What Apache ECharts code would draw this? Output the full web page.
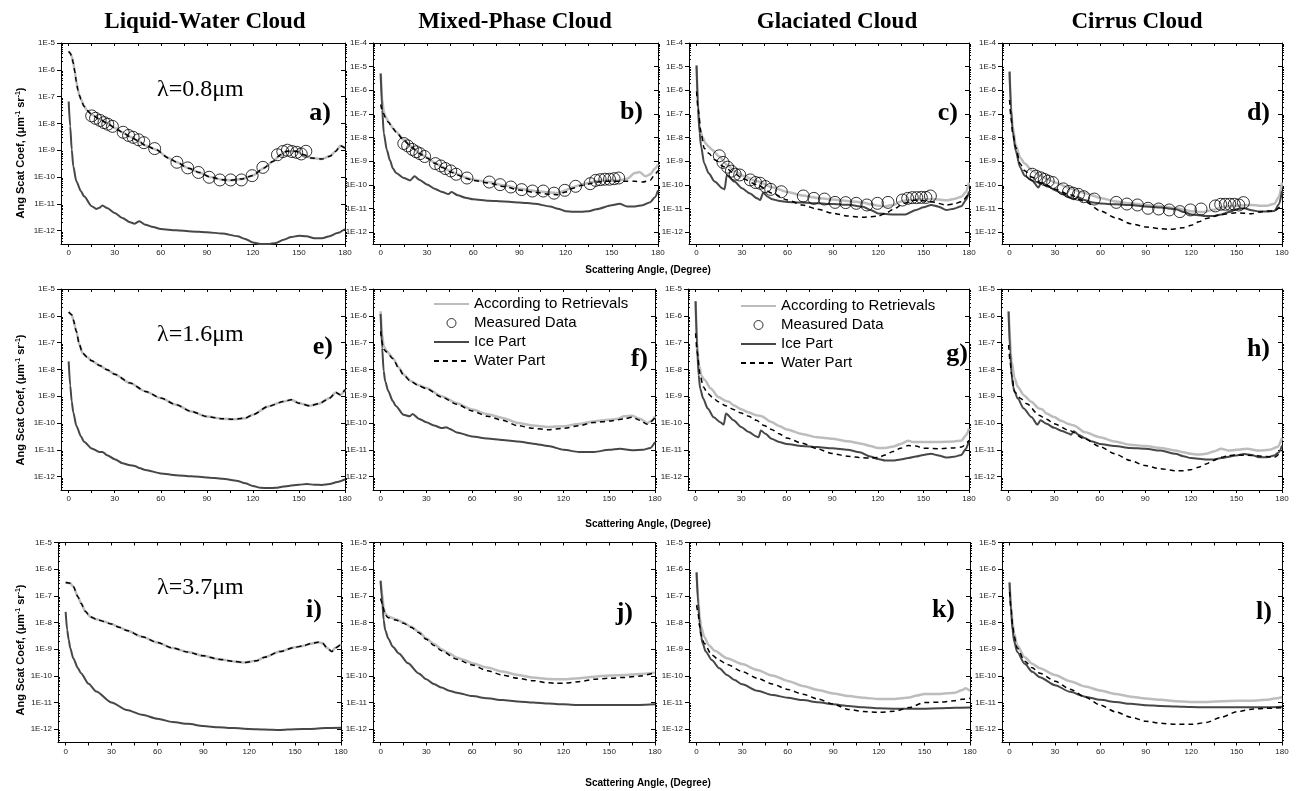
<!DOCTYPE html>
<html>
<head>
<meta charset="utf-8">
<script src="https://cdn.jsdelivr.net/npm/echarts@6/dist/echarts.min.js"></script>
<style>
  html, body { margin: 0; padding: 0; background: #fff; }
  #chart { width: 1297px; height: 791px; }
</style>
</head>
<body>
<div id="chart"></div>
<script>
// Angular scattering coefficient vs scattering angle.
// Curve values are stored as [angle in degrees, log10(coefficient in um^-1 sr^-1)].

// ---------- measured data (polar nephelometer angles) ----------
const measAngles = [15, 17.5, 20.5, 23, 25.5, 28.5, 35.5, 39, 42, 45.5, 49, 56, 70.5, 77.5, 84.5,
  91.5, 98.5, 105.5, 112.5, 119.5, 126.5, 136, 139.5, 142.5, 145.5, 148.5, 151.5, 154.5];
const measA = [-7.72, -7.81, -7.89, -7.97, -8.03, -8.11, -8.33, -8.45, -8.52, -8.61, -8.72, -8.94, -9.45, -9.66, -9.83,
  -10.01, -10.11, -10.11, -10.11, -9.95, -9.64, -9.17, -9.05, -9.0, -9.05, -9.08, -9.14, -9.04];
const measB = [-8.25, -8.35, -8.5, -8.6, -8.68, -8.8, -9.1, -9.2, -9.31, -9.41, -9.55, -9.71, -9.88, -9.99, -10.09,
  -10.2, -10.26, -10.26, -10.35, -10.23, -10.06, -9.95, -9.81, -9.78, -9.76, -9.76, -9.74, -9.71];
const measC = [-8.77, -9.05, -9.25, -9.42, -9.55, -9.58, -9.79, -9.9, -9.93, -10.07, -10.19, -10.29, -10.47, -10.57, -10.6,
  -10.74, -10.75, -10.78, -10.85, -10.78, -10.74, -10.64, -10.57, -10.54, -10.54, -10.53, -10.53, -10.47];
const measD = [-9.55, -9.63, -9.7, -9.77, -9.84, -9.9, -10.17, -10.28, -10.35, -10.4, -10.5, -10.6, -10.74, -10.81, -10.85,
  -10.99, -11.02, -11.06, -11.13, -11.06, -11.02, -10.89, -10.82, -10.82, -10.82, -10.82, -10.85, -10.75];

// ---------- lambda = 0.8 um ----------
const retA = [[0,-5.31],[1,-5.38],[2,-5.5],[3,-5.75],[4,-6.06],[5,-6.45],[6,-6.74],[7,-6.95],[8,-7.1],[10,-7.36],[12,-7.52],[15,-7.67],[20,-7.84],[25,-7.99],[30,-8.17],[35,-8.33],[40,-8.5],[45,-8.64],[50,-8.82],[57,-8.98],[65,-9.29],[70,-9.44],[78,-9.67],[85,-9.83],[92,-10.0],[100,-10.1],[106,-10.12],[113,-10.07],[120,-9.94],[127,-9.67],[133,-9.42],[138,-9.17],[142,-9.04],[148,-9.04],[153,-9.17],[158,-9.29],[165,-9.33],[170,-9.23],[174,-9.04],[177,-8.83],[180,-8.92]];
const waterA = [[0,-5.31],[1,-5.38],[2,-5.5],[3,-5.75],[4,-6.06],[5,-6.45],[6,-6.74],[7,-6.95],[8,-7.1],[10,-7.36],[12,-7.52],[15,-7.67],[20,-7.84],[25,-7.99],[30,-8.17],[35,-8.33],[40,-8.5],[45,-8.64],[50,-8.82],[57,-8.98],[65,-9.29],[70,-9.44],[78,-9.67],[85,-9.83],[92,-10.0],[100,-10.1],[106,-10.12],[113,-10.07],[120,-9.94],[127,-9.67],[133,-9.42],[138,-9.17],[142,-9.04],[148,-9.04],[153,-9.17],[158,-9.29],[165,-9.33],[170,-9.23],[174,-9.04],[177,-8.83],[180,-8.92]];
const iceA = [[0,-7.18],[1,-8.11],[2,-8.98],[3,-9.6],[5,-10.16],[8,-10.53],[10,-10.72],[15,-11.09],[18,-11.19],[20,-11.15],[22,-11.06],[25,-11.16],[30,-11.34],[35,-11.53],[40,-11.69],[43,-11.74],[46,-11.65],[50,-11.78],[55,-11.87],[60,-11.94],[70,-11.99],[80,-12.03],[90,-12.06],[100,-12.11],[110,-12.21],[115,-12.31],[120,-12.44],[125,-12.5],[130,-12.5],[135,-12.46],[140,-12.34],[145,-12.24],[150,-12.19],[155,-12.21],[160,-12.29],[165,-12.29],[170,-12.21],[175,-12.09],[180,-11.94]];

const retB = [[0,-5.27],[1,-6.4],[2,-6.9],[3,-7.1],[5,-7.33],[8,-7.6],[10,-7.75],[15,-8.1],[20,-8.39],[25,-8.65],[30,-8.84],[35,-9.06],[40,-9.24],[45,-9.41],[50,-9.55],[55,-9.69],[60,-9.78],[70,-9.88],[80,-10.02],[90,-10.16],[100,-10.26],[110,-10.32],[115,-10.35],[120,-10.23],[125,-10.09],[130,-9.99],[135,-9.92],[140,-9.84],[145,-9.81],[150,-9.81],[155,-9.81],[160,-9.74],[165,-9.5],[168,-9.45],[172,-9.64],[175,-9.55],[178,-9.31],[180,-9.13]];
const waterB = [[0,-6.6],[1,-6.85],[2,-7.0],[3,-7.15],[5,-7.35],[8,-7.62],[10,-7.77],[15,-8.12],[20,-8.41],[25,-8.67],[30,-8.86],[35,-9.08],[40,-9.27],[45,-9.44],[50,-9.58],[55,-9.72],[60,-9.81],[70,-9.92],[80,-10.07],[90,-10.22],[100,-10.32],[110,-10.4],[115,-10.42],[120,-10.3],[125,-10.14],[130,-10.03],[135,-9.96],[140,-9.88],[145,-9.85],[150,-9.85],[155,-9.85],[160,-9.85],[165,-9.85],[170,-9.88],[175,-9.8],[178,-9.55],[180,-9.4]];
const iceB = [[0,-5.3],[1,-6.83],[2,-7.82],[4,-8.53],[6,-8.96],[8,-9.31],[10,-9.5],[15,-9.71],[19,-9.81],[22,-9.64],[25,-9.78],[30,-9.98],[35,-10.16],[40,-10.3],[44,-10.39],[46,-10.3],[50,-10.44],[55,-10.54],[60,-10.61],[70,-10.67],[80,-10.7],[90,-10.74],[100,-10.8],[110,-10.91],[115,-11.01],[120,-11.11],[125,-11.14],[130,-11.14],[135,-11.11],[140,-11.03],[150,-10.86],[155,-10.8],[160,-10.91],[165,-10.91],[170,-10.86],[175,-10.73],[178,-10.52],[180,-10.23]];

const retC = [[0,-4.95],[1,-6.6],[2,-7.6],[4,-8.0],[6,-8.25],[8,-8.38],[10,-8.5],[15,-8.8],[20,-9.15],[25,-9.4],[30,-9.6],[40,-9.85],[50,-10.1],[60,-10.3],[70,-10.45],[80,-10.55],[90,-10.62],[100,-10.68],[110,-10.75],[115,-10.82],[120,-10.88],[125,-10.9],[130,-10.85],[135,-10.7],[140,-10.65],[145,-10.62],[150,-10.62],[155,-10.6],[160,-10.62],[165,-10.65],[170,-10.6],[175,-10.5],[178,-10.3],[180,-9.9]];
const waterC = [[0,-6.05],[1,-6.8],[3,-7.8],[5,-8.45],[8,-8.66],[12,-8.94],[18,-9.23],[25,-9.51],[30,-9.72],[40,-10.0],[50,-10.35],[60,-10.64],[70,-10.85],[80,-11.03],[90,-11.2],[100,-11.32],[110,-11.37],[120,-11.32],[125,-11.2],[130,-11.03],[137,-10.78],[145,-10.64],[155,-10.71],[165,-10.85],[170,-10.81],[175,-10.71],[180,-10.35]];
const iceC = [[0,-4.95],[1,-6.82],[2,-7.81],[3,-8.38],[5,-9.08],[8,-9.51],[12,-9.86],[17,-10.14],[18.5,-10.19],[20,-9.58],[25,-9.86],[30,-10.14],[35,-10.35],[40,-10.57],[42,-10.64],[44,-10.33],[47,-10.5],[50,-10.61],[55,-10.68],[60,-10.72],[70,-10.75],[80,-10.78],[90,-10.81],[100,-10.84],[110,-10.92],[115,-11.06],[120,-11.21],[130,-11.25],[138,-11.25],[145,-11.06],[150,-10.95],[155,-10.85],[160,-10.92],[165,-11.06],[170,-11.01],[175,-10.9],[178,-10.64],[180,-10.28]];

const retD = [[0,-5.21],[1,-6.7],[2,-7.5],[4,-8.3],[7,-8.85],[10,-9.1],[15,-9.4],[20,-9.6],[25,-9.75],[30,-9.9],[40,-10.15],[50,-10.35],[60,-10.55],[70,-10.7],[80,-10.78],[90,-10.85],[100,-10.9],[110,-10.98],[115,-11.05],[120,-11.12],[128,-11.15],[135,-11.05],[140,-10.95],[145,-10.9],[150,-10.88],[160,-10.85],[165,-10.88],[170,-10.88],[175,-10.8],[178,-10.5],[180,-9.9]];
const waterD = [[0,-6.41],[1,-7.2],[2,-7.8],[4,-8.4],[7,-9.11],[10,-9.4],[15,-9.68],[20,-9.9],[25,-10.04],[30,-10.18],[40,-10.42],[50,-10.71],[60,-11.1],[70,-11.39],[80,-11.64],[90,-11.78],[100,-11.85],[106,-11.88],[115,-11.81],[120,-11.71],[125,-11.56],[130,-11.42],[140,-11.25],[150,-11.18],[160,-11.22],[165,-11.15],[170,-11.1],[175,-11.1],[180,-10.82]];
const iceD = [[0,-5.21],[1,-6.84],[2,-7.69],[4,-8.55],[7,-9.26],[10,-9.61],[15,-9.82],[19,-10.11],[21,-9.9],[25,-10.04],[30,-10.23],[35,-10.37],[40,-10.54],[43,-10.61],[45,-10.51],[50,-10.65],[55,-10.75],[60,-10.79],[70,-10.82],[80,-10.85],[90,-10.91],[100,-10.96],[110,-11.03],[115,-11.15],[120,-11.25],[130,-11.32],[135,-11.32],[140,-11.25],[145,-11.15],[150,-11.03],[155,-10.99],[160,-11.07],[165,-11.13],[170,-11.13],[175,-11.1],[178,-10.82],[180,-10.26]];

// ---------- lambda = 1.6 um ----------
const retE = [[0,-5.86],[2,-5.96],[3,-6.15],[5,-6.58],[7,-7.08],[9,-7.39],[12,-7.54],[15,-7.68],[20,-7.85],[25,-8.01],[30,-8.18],[40,-8.51],[50,-8.82],[60,-9.07],[70,-9.32],[80,-9.57],[90,-9.76],[100,-9.84],[107,-9.86],[115,-9.82],[120,-9.69],[130,-9.38],[140,-9.2],[145,-9.13],[150,-9.26],[157,-9.36],[163,-9.28],[170,-9.07],[174,-8.86],[177,-8.95],[180,-8.76]];
const waterE = [[0,-5.86],[2,-5.96],[3,-6.15],[5,-6.58],[7,-7.08],[9,-7.39],[12,-7.54],[15,-7.68],[20,-7.85],[25,-8.01],[30,-8.18],[40,-8.51],[50,-8.82],[60,-9.07],[70,-9.32],[80,-9.57],[90,-9.76],[100,-9.84],[107,-9.86],[115,-9.82],[120,-9.69],[130,-9.38],[140,-9.2],[145,-9.13],[150,-9.26],[157,-9.36],[163,-9.28],[170,-9.07],[174,-8.86],[177,-8.95],[180,-8.76]];
const iceE = [[0,-7.7],[1,-8.6],[2,-9.2],[3,-9.6],[5,-10.1],[8,-10.5],[10,-10.7],[15,-10.95],[20,-11.08],[22,-11.08],[25,-11.2],[30,-11.35],[35,-11.5],[40,-11.58],[43,-11.6],[46,-11.68],[50,-11.75],[60,-11.88],[70,-11.95],[80,-11.99],[90,-12.03],[100,-12.08],[110,-12.16],[115,-12.25],[120,-12.35],[125,-12.42],[130,-12.43],[135,-12.42],[140,-12.37],[150,-12.3],[155,-12.28],[160,-12.3],[165,-12.31],[170,-12.28],[175,-12.2],[180,-12.1]];

const retF = [[0,-5.83],[1,-6.7],[2,-7.13],[4,-7.32],[8,-7.57],[12,-7.94],[15,-8.19],[20,-8.44],[25,-8.59],[30,-8.69],[40,-9.0],[50,-9.26],[60,-9.5],[70,-9.67],[80,-9.81],[90,-10.0],[100,-10.09],[110,-10.15],[120,-10.12],[130,-10.04],[140,-9.94],[150,-9.88],[155,-9.85],[160,-9.75],[165,-9.73],[170,-9.84],[175,-10.0],[178,-9.91],[180,-9.75]];
const waterF = [[0,-6.58],[1,-7.0],[2,-7.25],[4,-7.35],[8,-7.6],[12,-7.96],[15,-8.21],[20,-8.46],[25,-8.61],[30,-8.72],[40,-9.03],[50,-9.3],[60,-9.55],[70,-9.75],[80,-9.9],[90,-10.1],[100,-10.2],[110,-10.25],[120,-10.2],[130,-10.1],[140,-9.98],[150,-9.93],[160,-9.85],[165,-9.78],[170,-9.9],[175,-10.05],[180,-9.8]];
const iceF = [[0,-5.93],[1,-7.2],[2,-8.06],[3,-8.44],[5,-8.81],[8,-9.18],[10,-9.37],[15,-9.69],[19,-9.75],[21,-9.66],[25,-9.84],[30,-9.97],[35,-10.09],[40,-10.19],[43,-10.16],[45,-10.21],[50,-10.35],[60,-10.5],[70,-10.58],[80,-10.63],[90,-10.69],[100,-10.77],[110,-10.86],[120,-11.0],[130,-11.08],[140,-11.08],[150,-11.0],[157,-10.96],[165,-11.02],[172,-11.0],[177,-10.93],[180,-10.71]];

const retG = [[0,-5.46],[1,-7.0],[2,-7.8],[4,-8.25],[6,-8.4],[10,-8.71],[15,-9.03],[20,-9.18],[22,-9.21],[25,-9.34],[30,-9.49],[35,-9.61],[40,-9.71],[43,-9.74],[50,-9.96],[55,-10.11],[60,-10.24],[70,-10.41],[80,-10.53],[90,-10.59],[100,-10.68],[110,-10.78],[115,-10.86],[120,-10.93],[125,-10.93],[130,-10.88],[135,-10.78],[140,-10.66],[143,-10.71],[150,-10.71],[160,-10.71],[170,-10.69],[175,-10.66],[178,-10.46],[180,-10.21]];
const waterG = [[0,-6.65],[1,-7.34],[3,-8.21],[5,-8.65],[8,-8.9],[12,-9.09],[15,-9.21],[20,-9.36],[25,-9.5],[30,-9.63],[35,-9.75],[40,-9.9],[45,-10.09],[50,-10.24],[55,-10.4],[60,-10.56],[70,-10.75],[80,-10.96],[90,-11.14],[100,-11.24],[110,-11.3],[115,-11.31],[120,-11.29],[125,-11.19],[130,-11.06],[135,-10.94],[140,-10.84],[145,-10.86],[150,-10.94],[160,-10.96],[170,-10.93],[175,-10.9],[180,-10.65]];
const iceG = [[0,-5.46],[1,-7.21],[2,-8.21],[3,-8.71],[5,-9.09],[8,-9.46],[12,-9.79],[16,-9.96],[18.5,-10.06],[20,-9.65],[25,-9.9],[30,-10.15],[35,-10.34],[40,-10.5],[41.5,-10.53],[43,-10.28],[46,-10.4],[50,-10.59],[55,-10.71],[60,-10.78],[70,-10.86],[80,-10.9],[90,-10.94],[100,-11.0],[108,-11.09],[115,-11.25],[120,-11.34],[125,-11.4],[130,-11.4],[135,-11.36],[140,-11.31],[145,-11.25],[150,-11.19],[155,-11.15],[160,-11.21],[165,-11.29],[170,-11.26],[175,-11.19],[178,-10.96],[180,-10.65]];

const retH = [[0,-5.84],[2,-7.7],[4,-8.34],[6,-8.65],[10,-8.96],[15,-9.21],[20,-9.46],[22,-9.49],[25,-9.65],[30,-9.78],[35,-9.93],[40,-10.05],[43,-10.09],[50,-10.34],[60,-10.53],[70,-10.69],[80,-10.81],[90,-10.86],[100,-10.93],[110,-11.03],[115,-11.09],[120,-11.15],[125,-11.18],[130,-11.15],[135,-11.06],[140,-10.96],[145,-11.03],[150,-11.0],[157,-10.96],[165,-11.03],[172,-11.0],[177,-10.9],[180,-10.56]];
const waterH = [[0,-7.09],[1,-7.71],[2,-8.21],[4,-8.84],[8,-9.09],[12,-9.28],[20,-9.71],[25,-9.86],[30,-10.03],[40,-10.28],[50,-10.59],[60,-10.88],[70,-11.15],[80,-11.4],[90,-11.59],[100,-11.71],[110,-11.78],[115,-11.78],[120,-11.74],[125,-11.65],[130,-11.53],[135,-11.4],[140,-11.28],[145,-11.21],[150,-11.19],[160,-11.21],[170,-11.25],[175,-11.28],[180,-11.03]];
const iceH = [[0,-5.84],[1,-7.34],[2,-8.21],[3,-8.65],[4,-8.84],[6,-9.09],[10,-9.46],[15,-9.78],[19,-10.06],[21,-9.9],[25,-10.03],[30,-10.18],[35,-10.3],[40,-10.4],[41,-10.44],[43,-10.31],[46,-10.44],[50,-10.56],[55,-10.69],[60,-10.78],[70,-10.86],[80,-10.93],[90,-10.96],[100,-11.03],[110,-11.15],[115,-11.24],[120,-11.31],[130,-11.36],[135,-11.36],[140,-11.31],[150,-11.21],[155,-11.16],[160,-11.19],[165,-11.28],[170,-11.28],[175,-11.21],[178,-11.09],[180,-10.84]];

// ---------- lambda = 3.7 um ----------
const retI = [[0,-6.5],[3,-6.53],[5,-6.65],[8,-7.03],[10,-7.28],[13,-7.59],[16,-7.78],[20,-7.88],[25,-7.96],[30,-8.06],[35,-8.18],[40,-8.3],[50,-8.53],[60,-8.75],[70,-8.96],[80,-9.11],[90,-9.25],[100,-9.38],[110,-9.46],[117,-9.5],[125,-9.43],[130,-9.3],[140,-9.09],[150,-8.93],[155,-8.88],[160,-8.8],[165,-8.74],[168,-8.78],[171,-8.96],[174,-9.09],[176,-8.96],[180,-8.81]];
const waterI = [[0,-6.5],[3,-6.53],[5,-6.65],[8,-7.03],[10,-7.28],[13,-7.59],[16,-7.78],[20,-7.88],[25,-7.96],[30,-8.06],[35,-8.18],[40,-8.3],[50,-8.53],[60,-8.75],[70,-8.96],[80,-9.11],[90,-9.25],[100,-9.38],[110,-9.46],[117,-9.5],[125,-9.43],[130,-9.3],[140,-9.09],[150,-8.93],[155,-8.88],[160,-8.8],[165,-8.74],[168,-8.78],[171,-8.96],[174,-9.09],[176,-8.96],[180,-8.81]];
const iceI = [[0,-7.6],[1,-8.28],[2,-8.65],[3,-8.96],[5,-9.34],[8,-9.71],[10,-9.9],[15,-10.3],[20,-10.59],[30,-11.0],[40,-11.28],[50,-11.46],[60,-11.61],[70,-11.73],[80,-11.8],[90,-11.88],[100,-11.93],[110,-11.96],[120,-11.99],[130,-12.01],[140,-12.03],[150,-12.0],[160,-11.99],[170,-11.96],[180,-11.95]];

const retJ = [[0,-6.41],[1,-6.91],[2,-7.47],[3,-7.66],[5,-7.78],[10,-7.88],[15,-8.0],[20,-8.16],[25,-8.35],[30,-8.6],[35,-8.81],[40,-9.01],[45,-9.16],[50,-9.32],[55,-9.41],[60,-9.53],[70,-9.69],[80,-9.84],[90,-9.97],[100,-10.06],[110,-10.12],[120,-10.13],[130,-10.09],[140,-10.03],[150,-9.99],[160,-9.97],[170,-9.93],[180,-9.88]];
const waterJ = [[0,-7.1],[1,-7.28],[3,-7.72],[5,-7.82],[10,-7.91],[15,-8.03],[20,-8.18],[25,-8.38],[30,-8.63],[35,-8.86],[40,-9.06],[50,-9.38],[60,-9.59],[70,-9.81],[80,-9.97],[90,-10.09],[100,-10.18],[110,-10.26],[115,-10.28],[120,-10.28],[130,-10.22],[140,-10.13],[150,-10.09],[160,-10.06],[170,-10.01],[180,-9.88]];
const iceJ = [[0,-6.45],[1,-7.16],[2,-7.91],[3,-8.28],[5,-8.6],[8,-8.91],[12,-9.16],[18,-9.53],[25,-9.91],[30,-10.13],[35,-10.31],[40,-10.44],[45,-10.56],[50,-10.63],[60,-10.76],[70,-10.84],[80,-10.91],[90,-10.96],[100,-11.0],[110,-11.04],[120,-11.07],[130,-11.09],[140,-11.09],[150,-11.09],[160,-11.09],[170,-11.09],[180,-11.07]];

const retK = [[0,-6.12],[1,-7.03],[2,-7.78],[3,-8.16],[5,-8.53],[8,-8.85],[12,-9.06],[20,-9.34],[30,-9.56],[40,-9.78],[50,-9.99],[60,-10.19],[70,-10.38],[80,-10.53],[90,-10.66],[100,-10.76],[110,-10.82],[120,-10.87],[130,-10.87],[140,-10.81],[145,-10.74],[150,-10.68],[160,-10.68],[170,-10.63],[175,-10.53],[177,-10.47],[180,-10.56]];
const waterK = [[0,-7.35],[1,-7.66],[2,-8.16],[3,-8.47],[5,-8.78],[10,-9.22],[15,-9.41],[20,-9.57],[30,-9.84],[40,-10.09],[50,-10.31],[60,-10.51],[70,-10.69],[80,-10.87],[90,-11.06],[100,-11.26],[110,-11.34],[120,-11.37],[130,-11.33],[140,-11.19],[150,-11.0],[160,-10.99],[170,-10.93],[175,-10.88],[180,-10.84]];
const iceK = [[0,-6.12],[1,-7.28],[2,-8.03],[3,-8.53],[4,-8.78],[6,-9.09],[10,-9.41],[15,-9.72],[20,-9.97],[25,-10.16],[30,-10.32],[40,-10.56],[50,-10.72],[60,-10.82],[70,-10.91],[80,-10.99],[90,-11.07],[100,-11.13],[110,-11.18],[120,-11.22],[130,-11.23],[140,-11.23],[150,-11.23],[160,-11.22],[170,-11.2],[180,-11.19]];

const retL = [[0,-6.5],[1,-7.4],[2,-8.0],[3,-8.4],[5,-8.85],[10,-9.3],[15,-9.55],[20,-9.72],[30,-9.97],[40,-10.2],[50,-10.4],[60,-10.55],[70,-10.68],[80,-10.78],[90,-10.85],[100,-10.9],[110,-10.95],[120,-10.98],[130,-10.98],[140,-10.95],[150,-10.93],[160,-10.93],[170,-10.9],[175,-10.85],[180,-10.8]];
const waterL = [[0,-6.85],[1,-7.5],[2,-8.1],[3,-8.5],[5,-8.95],[10,-9.45],[15,-9.7],[20,-9.9],[30,-10.2],[40,-10.5],[50,-10.8],[60,-11.1],[70,-11.35],[80,-11.55],[90,-11.7],[100,-11.78],[110,-11.82],[120,-11.82],[130,-11.75],[140,-11.55],[150,-11.35],[160,-11.25],[170,-11.22],[180,-11.2]];
const iceL = [[0,-6.5],[1,-7.6],[2,-8.3],[3,-8.7],[5,-9.1],[10,-9.55],[15,-9.85],[20,-10.05],[30,-10.35],[40,-10.6],[50,-10.78],[60,-10.9],[70,-10.98],[80,-11.05],[90,-11.1],[100,-11.13],[110,-11.15],[120,-11.17],[130,-11.18],[140,-11.18],[150,-11.18],[160,-11.18],[170,-11.18],[180,-11.16]];

// ---------- texts ----------
const columnTitles = ['Liquid-Water Cloud', 'Mixed-Phase Cloud', 'Glaciated Cloud', 'Cirrus Cloud'];
const wavelengthLabels = ['λ=0.8μm', 'λ=1.6μm', 'λ=3.7μm'];
const panelTags = ['a)', 'b)', 'c)', 'd)', 'e)', 'f)', 'g)', 'h)', 'i)', 'j)', 'k)', 'l)'];
const yTitleText = 'Ang Scat Coef, (μm{s|-1} sr{s|-1})';
const xTitleText = 'Scattering Angle, (Degree)';
const legendNames = ['According to Retrievals', 'Measured Data', 'Ice Part', 'Water Part'];
const xLabelValues = [0, 30, 60, 90, 120, 150, 180];
const xTickValues = [0, 15, 30, 45, 60, 75, 90, 105, 120, 135, 150, 165, 180];
const yLogBottom = -12.5;
const yLogTops = [-5, -4, -4, -4, -5, -5, -5, -5, -5, -5, -5, -5];

const panelData = [
  { ret: retA, ice: iceA, water: waterA, meas: measA },
  { ret: retB, ice: iceB, water: waterB, meas: measB },
  { ret: retC, ice: iceC, water: waterC, meas: measC },
  { ret: retD, ice: iceD, water: waterD, meas: measD },
  { ret: retE, ice: iceE, water: waterE },
  { ret: retF, ice: iceF, water: waterF },
  { ret: retG, ice: iceG, water: waterG },
  { ret: retH, ice: iceH, water: waterH },
  { ret: retI, ice: iceI, water: waterI },
  { ret: retJ, ice: iceJ, water: waterJ },
  { ret: retK, ice: iceK, water: waterK },
  { ret: retL, ice: iceL, water: waterL }
];

// ---------- layout ----------
const gridBoxes = [ // left, top, width, height
  [61, 43, 284, 201], [373, 43, 285, 201], [689, 43, 280, 201], [1002, 43, 280, 201],
  [61, 289, 284, 201], [373, 289, 282, 201], [688, 289, 281, 201], [1001, 289, 281, 201],
  [58, 542.5, 283, 200], [373, 542.5, 282, 200], [689, 542.5, 281, 200], [1002, 542.5, 280, 200]
];
const tagAnchors = [[331, 113], [643, 112], [958, 113], [1270, 113], [333, 347], [648, 359], [968, 354], [1270, 349],
  [322, 610], [633, 613], [955, 610], [1272, 612]];
const columnTitleX = [205, 515, 837, 1137];
const wavelengthY = [90, 335, 588];
const yTitleY = [153, 400, 650];
const xTitleY = [270, 524, 783];

const SANS = 'Arial, "Liberation Sans", Helvetica, sans-serif';
const SERIF = '"Times New Roman", "Liberation Serif", Times, serif';
const C_RET = '#bdbdbd', C_ICE = '#474747', C_WATER = '#000000';

const toPoints = arr => arr.map(([x, e]) => [x, Math.pow(10, e)]);
const expLabel = v => '1E' + Math.round(Math.log10(v));

function majorDecades(lo, hi) {
  const out = [];
  for (let e = Math.ceil(lo); e <= hi; e++) out.push(Math.pow(10, e));
  return out;
}
function minorDecades(lo, hi) {
  const out = [];
  for (let e = Math.floor(lo); e < hi; e++) {
    for (let k = 2; k <= 9; k++) {
      const v = k * Math.pow(10, e);
      const l = Math.log10(v);
      if (l > lo && l < hi) out.push(v);
    }
  }
  return out;
}

const grid = [], xAxis = [], yAxis = [], series = [], graphic = [];

panelData.forEach((pd, p) => {
  const [l, t, w, h] = gridBoxes[p];
  grid.push({ left: l, top: t, width: w, height: h });

  const xBase = {
    type: 'value', gridIndex: p, min: -5, max: 180,
    splitLine: { show: false },
    axisLine: { onZero: false, lineStyle: { color: '#000', width: 1 } }
  };
  xAxis.push(Object.assign({}, xBase, {
    position: 'bottom',
    axisTick: { customValues: xTickValues, length: 3, inside: false, lineStyle: { color: '#000' } },
    axisLabel: { customValues: xLabelValues, fontSize: 8, margin: 5, color: '#222', fontFamily: SANS }
  }));
  xAxis.push(Object.assign({}, xBase, {
    position: 'top',
    axisTick: { customValues: xTickValues, length: 3, inside: true, lineStyle: { color: '#000' } },
    axisLabel: { show: false }
  }));

  const topExp = yLogTops[p];
  const majors = majorDecades(yLogBottom, topExp);
  const minors = minorDecades(yLogBottom, topExp);
  const yBase = {
    type: 'log', gridIndex: p,
    min: Math.pow(10, yLogBottom), max: Math.pow(10, topExp),
    splitLine: { show: false },
    axisLine: { onZero: false, lineStyle: { color: '#000', width: 1 } }
  };
  yAxis.push(Object.assign({}, yBase, {
    position: 'left',
    axisTick: { customValues: majors, length: 4, inside: false, lineStyle: { color: '#000' } },
    axisLabel: { customValues: majors, formatter: expLabel, fontSize: 8, margin: 6, color: '#222', fontFamily: SANS }
  }));
  yAxis.push(Object.assign({}, yBase, {
    position: 'left',
    axisLine: { show: false, onZero: false },
    axisTick: { customValues: minors, length: 2, inside: true, lineStyle: { color: '#000' } },
    axisLabel: { show: false }
  }));
  yAxis.push(Object.assign({}, yBase, {
    position: 'right',
    axisTick: { customValues: majors, length: 4, inside: true, lineStyle: { color: '#000' } },
    axisLabel: { show: false }
  }));
  yAxis.push(Object.assign({}, yBase, {
    position: 'right',
    axisLine: { show: false, onZero: false },
    axisTick: { customValues: minors, length: 2, inside: false, lineStyle: { color: '#000' } },
    axisLabel: { show: false }
  }));

  const common = { xAxisIndex: 2 * p, yAxisIndex: 4 * p, symbol: 'none', smooth: 0.25, smoothMonotone: 'x', silent: true };
  series.push(Object.assign({ type: 'line', name: legendNames[0], data: toPoints(pd.ret),
    lineStyle: { color: C_RET, width: 2.5 }, itemStyle: { color: C_RET }, z: 2 }, common));
  series.push(Object.assign({ type: 'line', name: legendNames[2], data: toPoints(pd.ice),
    lineStyle: { color: C_ICE, width: 2 }, itemStyle: { color: C_ICE }, z: 3 }, common));
  series.push(Object.assign({ type: 'line', name: legendNames[3], data: toPoints(pd.water),
    lineStyle: { color: C_WATER, width: 1.5, type: [5, 4] }, itemStyle: { color: C_WATER }, z: 4 }, common));
  if (pd.meas) {
    series.push({
      type: 'scatter', name: legendNames[1], xAxisIndex: 2 * p, yAxisIndex: 4 * p,
      data: measAngles.map((a, i) => [a, Math.pow(10, pd.meas[i])]),
      symbol: 'circle', symbolSize: 12, silent: true, z: 5,
      itemStyle: { color: 'rgba(255,255,255,0)', borderColor: '#000', borderWidth: 1 }
    });
  }

  graphic.push({
    type: 'text', x: tagAnchors[p][0], y: tagAnchors[p][1], silent: true,
    style: { text: panelTags[p], font: 'bold 26px ' + SERIF, fill: '#000', align: 'right', verticalAlign: 'middle' }
  });
});

columnTitles.forEach((txt, c) => {
  graphic.push({
    type: 'text', x: columnTitleX[c], y: 22, silent: true,
    style: { text: txt, font: 'bold 23px ' + SERIF, fill: '#000', align: 'center', verticalAlign: 'middle' }
  });
});
wavelengthLabels.forEach((txt, r) => {
  graphic.push({
    type: 'text', x: 157, y: wavelengthY[r], silent: true,
    style: { text: txt, font: '24px ' + SERIF, fill: '#000', align: 'left', verticalAlign: 'middle' }
  });
  graphic.push({
    type: 'text', x: 21, y: yTitleY[r], rotation: Math.PI / 2, silent: true,
    style: {
      text: yTitleText, font: 'bold 11px ' + SANS, fill: '#000', align: 'center', verticalAlign: 'middle',
      lineHeight: 13, rich: { s: { font: 'bold 7px ' + SANS, verticalAlign: 'top', lineHeight: 13, fill: '#000' } }
    }
  });
  graphic.push({
    type: 'text', x: 648, y: xTitleY[r], silent: true,
    style: { text: xTitleText, font: 'bold 10px ' + SANS, fill: '#000', align: 'center', verticalAlign: 'middle' }
  });
});

// Line entries show only their stroke; the measured-data entry shows an open circle.
const hiddenMarker = { color: 'rgba(0,0,0,0)', borderWidth: 0, opacity: 0 };
const legendBase = {
  orient: 'vertical', selectedMode: false, padding: 0, itemWidth: 35, itemHeight: 9, itemGap: 3,
  textStyle: { fontSize: 15, fontFamily: SANS, color: '#000', lineHeight: 16 },
  data: legendNames.map(n => n === 'Measured Data'
    ? { name: n, icon: 'circle', itemStyle: { color: 'rgba(255,255,255,0)', borderColor: '#000', borderWidth: 1 } }
    : { name: n, itemStyle: hiddenMarker })
};

const chart = echarts.init(document.getElementById('chart'), null, { renderer: 'canvas' });
chart.setOption({
  backgroundColor: '#ffffff',
  animation: false,
  grid: grid,
  xAxis: xAxis,
  yAxis: yAxis,
  series: series,
  legend: [
    Object.assign({}, legendBase, { left: 433, top: 296 }),
    Object.assign({}, legendBase, { left: 740, top: 298 })
  ],
  graphic: graphic
});
</script>
</body>
</html>
